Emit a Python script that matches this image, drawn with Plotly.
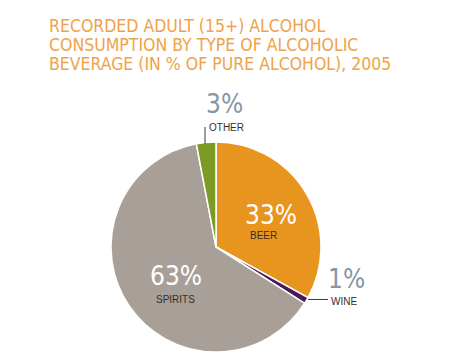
import plotly.graph_objects as go

categories = ["BEER", "WINE", "SPIRITS", "OTHER"]
values = [33, 1, 63, 3]
colors = ["#E8951F", "#4B1A57", "#A8A098", "#7C9A24"]
title_lines = [
    "RECORDED ADULT (15+) ALCOHOL",
    "CONSUMPTION BY TYPE OF ALCOHOLIC",
    "BEVERAGE (IN % OF PURE ALCOHOL), 2005",
]

W, H = 450, 364


def px(x, y):
    return x / W, 1 - y / H


# pie geometry (pixels)
cx, cy, r = 216, 247, 105

fig = go.Figure(
    go.Pie(
        labels=categories,
        values=values,
        sort=False,
        direction="clockwise",
        rotation=0,
        marker=dict(colors=colors, line=dict(color="white", width=1.5)),
        textinfo="none",
        hoverinfo="label+percent",
        showlegend=False,
        domain=dict(x=[(cx - r) / W, (cx + r) / W], y=[1 - (cy + r) / H, 1 - (cy - r) / H]),
    )
)

annotations = []
COND = "Liberation Sans Narrow, DejaVu Sans Condensed, Arial Narrow, sans-serif"
for i, line in enumerate(title_lines):
    x, y = px(47, 26.5 + i * 18.6)
    annotations.append(dict(text=line, x=x, y=y, xref="paper", yref="paper",
                            xanchor="left", yanchor="middle", showarrow=False,
                            font=dict(family=COND, size=17.5, color="#F0A24A")))

# label placements in pixels: (pct center, name center, pct color)
label_pos = {
    "BEER": ((271, 215), (263, 235), "white"),
    "WINE": ((346, 279), (344, 301.5), "#8496A8"),
    "SPIRITS": ((176, 276), (175, 299), "white"),
    "OTHER": ((224, 104), (226, 127.5), "#8496A8"),
}
for cat, val in zip(categories, values):
    (px1, py1), (px2, py2), col = label_pos[cat]
    x, y = px(px1, py1)
    annotations.append(dict(text=f"{val}%", x=x, y=y, xref="paper", yref="paper",
                            xanchor="center", yanchor="middle", showarrow=False,
                            font=dict(family=COND, size=26, color=col)))
    x, y = px(px2, py2)
    annotations.append(dict(text=cat, x=x, y=y, xref="paper", yref="paper",
                            xanchor="center", yanchor="middle", showarrow=False,
                            font=dict(family="Liberation Sans, Arial, sans-serif", size=10,
                                      color="#3A2E24")))

shapes = []
x0, y0 = px(205, 127)
x1, y1 = px(205, 144)
shapes.append(dict(type="line", xref="paper", yref="paper", x0=x0, y0=y0, x1=x1, y1=y1,
                   line=dict(color="#3A3A3A", width=1)))
x0, y0 = px(308, 299.5)
x1, y1 = px(328, 299.5)
shapes.append(dict(type="line", xref="paper", yref="paper", x0=x0, y0=y0, x1=x1, y1=y1,
                   line=dict(color="#3A3A3A", width=1)))

fig.update_layout(
    width=W, height=H,
    margin=dict(l=0, r=0, t=0, b=0),
    paper_bgcolor="white", plot_bgcolor="white",
    annotations=annotations, shapes=shapes,
)

fig.write_html("out.html", config={"displayModeBar": False},
               post_script="document.body.style.margin='0';document.body.style.padding='0';")
